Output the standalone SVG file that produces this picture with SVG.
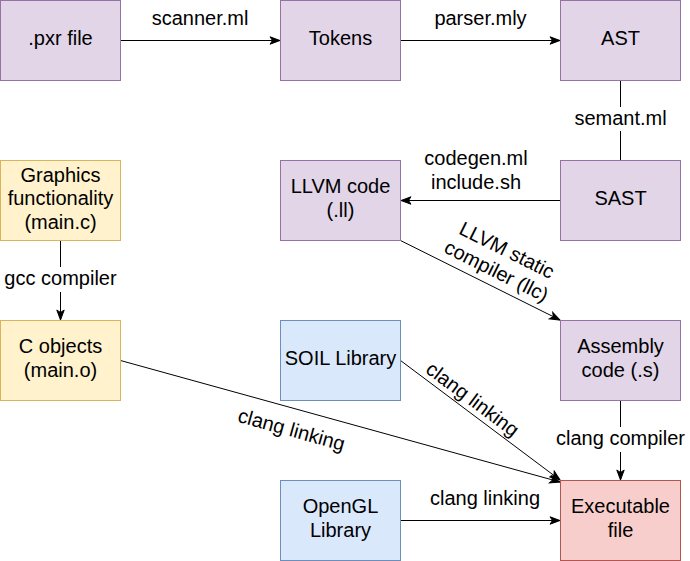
<svg xmlns="http://www.w3.org/2000/svg" width="690" height="561" viewBox="0 0 690 561">
<style>
text{font-family:"Liberation Sans",Arial,Helvetica,sans-serif;font-size:20px;fill:#000;text-anchor:middle}
.p{fill:#e1d5e7;stroke:#9673a6;stroke-width:1}
.y{fill:#fff2cc;stroke:#d6b656;stroke-width:1}
.b{fill:#dae8fc;stroke:#6c8ebf;stroke-width:1}
.r{fill:#f8cecc;stroke:#b85450;stroke-width:1}
.e{fill:none;stroke:#000;stroke-width:1}
.a{marker-end:url(#arr)}
.bg{fill:#fff;stroke:none}
</style>
<defs>
<marker id="arr" markerUnits="userSpaceOnUse" markerWidth="12" markerHeight="10" viewBox="0 0 12 10" refX="11" refY="5" orient="auto">
<path d="M1,1.3 L11,5 L1,8.7 L3.5,5 Z" fill="#000" stroke="#000" stroke-width="1"/>
</marker>
</defs>
<g id="connectors">
<path class="e a" d="M120.5,40.5 L280,40.5"/>
<text x="200" y="25">scanner.ml</text>
<path class="e a" d="M400.5,40.5 L560,40.5"/>
<text x="480.5" y="25">parser.mly</text>
<path class="e" d="M620.5,80.5 L620.5,160.5"/>
<rect class="bg" x="574" y="107" width="93" height="24"/>
<text x="620.5" y="125">semant.ml</text>
<path class="e a" d="M560,200.5 L401,200.5"/>
<text x="476" y="165">codegen.ml</text>
<text x="476" y="188.5">include.sh</text>
<path class="e a" d="M400.5,240.5 L560,320"/>
<g transform="translate(501,262) rotate(26.57)">
<text x="0" y="-6.5">LLVM static</text>
<text x="0" y="17">compiler (llc)</text>
</g>
<path class="e a" d="M60.5,240.5 L60.5,320"/>
<rect class="bg" x="4" y="267" width="113" height="25"/>
<text x="60.5" y="285">gcc compiler</text>
<path class="e a" d="M620.5,400.5 L620.5,480"/>
<rect class="bg" x="555" y="427" width="131" height="25"/>
<text x="620.5" y="445">clang compiler</text>
<path class="e a" d="M120.5,360.5 L560,482"/>
<g transform="translate(291.5,430) rotate(15.5)">
<text x="0" y="6.5">clang linking</text>
</g>
<path class="e a" d="M400.5,360.5 L560,480"/>
<g transform="translate(472.5,399.5) rotate(36.8)">
<text x="0" y="6.5">clang linking</text>
</g>
<path class="e a" d="M400.5,520.5 L560,520.5"/>
<text x="485" y="505">clang linking</text>
</g>
<g id="pxr"><rect class="p" x="0.5" y="0.5" width="120" height="80"/><text x="60.5" y="45">.pxr file</text></g>
<g id="tokens"><rect class="p" x="280.5" y="0.5" width="120" height="80"/><text x="340.5" y="45">Tokens</text></g>
<g id="ast"><rect class="p" x="560.5" y="0.5" width="120" height="80"/><text x="620.5" y="45">AST</text></g>
<g id="sast"><rect class="p" x="560.5" y="160.5" width="120" height="80"/><text x="620.5" y="205">SAST</text></g>
<g id="llvm"><rect class="p" x="280.5" y="160.5" width="120" height="80"/><text x="340.5" y="193.25">LLVM code</text><text x="340.5" y="216.75">(.ll)</text></g>
<g id="graphics"><rect class="y" x="0.5" y="160.5" width="120" height="80"/><text x="60.5" y="181.5">Graphics</text><text x="60.5" y="205">functionality</text><text x="60.5" y="228.5">(main.c)</text></g>
<g id="cobjects"><rect class="y" x="0.5" y="320.5" width="120" height="80"/><text x="60.5" y="353.25">C objects</text><text x="60.5" y="376.75">(main.o)</text></g>
<g id="soil"><rect class="b" x="280.5" y="320.5" width="120" height="80"/><text x="340.5" y="365">SOIL Library</text></g>
<g id="assembly"><rect class="p" x="560.5" y="320.5" width="120" height="80"/><text x="620.5" y="353.25">Assembly</text><text x="620.5" y="376.75">code (.s)</text></g>
<g id="opengl"><rect class="b" x="280.5" y="480.5" width="120" height="80"/><text x="340.5" y="513.25">OpenGL</text><text x="340.5" y="536.75">Library</text></g>
<g id="executable"><rect class="r" x="560.5" y="480.5" width="120" height="80"/><text x="620.5" y="513.25">Executable</text><text x="620.5" y="536.75">file</text></g>
</svg>
